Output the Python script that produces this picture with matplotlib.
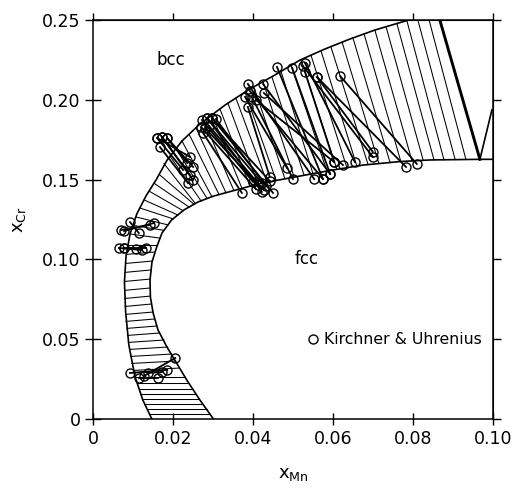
import numpy as np
import matplotlib
matplotlib.use("Agg")
import matplotlib.pyplot as plt

plt.rcParams['font.family'] = ['DejaVu Sans']
plt.rcParams['mathtext.default'] = 'regular'

# phase boundaries (x_Mn, x_Cr)
bcc_x = [0.0146, 0.0124, 0.0104, 0.0089, 0.0081, 0.0078, 0.0082, 0.0092, 0.0109, 0.0132,
         0.0157, 0.0185, 0.0222, 0.0267, 0.0330, 0.0392, 0.0455, 0.0518, 0.0580, 0.0643,
         0.0705, 0.0768, 0.0786]
bcc_y = [0.0, 0.0116, 0.0267, 0.0462, 0.0669, 0.0857, 0.1021, 0.1159, 0.1285, 0.1398,
         0.1498, 0.1624, 0.1743, 0.1850, 0.1969, 0.2070, 0.2158, 0.2252, 0.2321, 0.2384,
         0.2440, 0.2487, 0.25]
fcc_x = [0.0300, 0.0267, 0.0234, 0.0207, 0.0184, 0.0162, 0.0150, 0.0143, 0.0142, 0.0147,
         0.0159, 0.0172, 0.0196, 0.0227, 0.0262, 0.0302, 0.0342, 0.0417, 0.0509, 0.0593,
         0.0676, 0.0768, 0.0843, 0.0968, 0.1000]
fcc_y = [0.0, 0.0116, 0.0242, 0.0355, 0.0451, 0.0556, 0.0661, 0.0763, 0.0870, 0.0983,
         0.1079, 0.1165, 0.1247, 0.1310, 0.1360, 0.1398, 0.1425, 0.1476, 0.1519, 0.1558,
         0.1592, 0.1614, 0.1624, 0.1628, 0.1628]

# three-phase corner
tri_x = [0.0868, 0.0968]
tri_y = [0.2500, 0.1628]
tri2_x = [0.0968, 0.0998]
tri2_y = [0.1628, 0.1938]

# calculated tie-lines: bcc end -> fcc end
tie_bx = [0.0141, 0.0135, 0.0128, 0.0123, 0.0119, 0.0115, 0.0111, 0.0106, 0.0101, 0.0097,
          0.0094, 0.0091, 0.0088, 0.0086, 0.0084, 0.0082, 0.0081, 0.0080, 0.0079, 0.0079,
          0.0079, 0.0080, 0.0081, 0.0084,
          0.0087, 0.0092, 0.0099, 0.0107, 0.0117, 0.0127, 0.0140, 0.0152, 0.0165, 0.0177,
          0.0192, 0.0207, 0.0222, 0.0240, 0.0257, 0.0277, 0.0297, 0.0317, 0.0337, 0.0357,
          0.0380, 0.0402, 0.0425, 0.0447, 0.0470, 0.0495, 0.0520, 0.0545, 0.0570, 0.0595,
          0.0623, 0.0650, 0.0678, 0.0705, 0.0733, 0.0760, 0.0785, 0.0813, 0.0841]
tie_by = [0.0028, 0.0060, 0.0091, 0.0123, 0.0154, 0.0185, 0.0223, 0.0261, 0.0302, 0.0346,
          0.0390, 0.0434, 0.0478, 0.0522, 0.0566, 0.0610, 0.0654, 0.0704, 0.0754, 0.0805,
          0.0861, 0.0918, 0.0974, 0.1031,
          0.1090, 0.1159, 0.1213, 0.1266, 0.1322, 0.1373, 0.1428, 0.1478, 0.1533, 0.1601,
          0.1648, 0.1695, 0.1743, 0.1785, 0.1826, 0.1869, 0.1907, 0.1945, 0.1981, 0.2013,
          0.2050, 0.2084, 0.2116, 0.2147, 0.2180, 0.2218, 0.2254, 0.2282, 0.2310, 0.2334,
          0.2364, 0.2391, 0.2415, 0.2440, 0.2461, 0.2482, 0.2500, 0.2500, 0.2500]
tie_fx = [0.0292, 0.0284, 0.0274, 0.0265, 0.0257, 0.0249, 0.0239, 0.0230, 0.0216, 0.0206,
          0.0196, 0.0186, 0.0177, 0.0166, 0.0159, 0.0153, 0.0150, 0.0145, 0.0143, 0.0143,
          0.0143, 0.0144, 0.0147, 0.0154,
          0.0160, 0.0167, 0.0177, 0.0187, 0.0200, 0.0212, 0.0225, 0.0240, 0.0252, 0.0255,
          0.0270, 0.0285, 0.0297, 0.0315, 0.0332, 0.0352, 0.0372, 0.0392, 0.0412, 0.0435,
          0.0458, 0.0480, 0.0503, 0.0528, 0.0550, 0.0585, 0.0610, 0.0635, 0.0660, 0.0688,
          0.0715, 0.0743, 0.0770, 0.0798, 0.0826, 0.0853, 0.0878, 0.0906, 0.0933]
tie_fy = [0.0028, 0.0060, 0.0091, 0.0123, 0.0154, 0.0185, 0.0223, 0.0261, 0.0317, 0.0361,
          0.0405, 0.0449, 0.0493, 0.0537, 0.0581, 0.0625, 0.0669, 0.0719, 0.0769, 0.0820,
          0.0876, 0.0933, 0.0989, 0.1046,
          0.1090, 0.1133, 0.1182, 0.1216, 0.1254, 0.1278, 0.1305, 0.1328, 0.1346, 0.1352,
          0.1366, 0.1382, 0.1393, 0.1406, 0.1419, 0.1432, 0.1447, 0.1461, 0.1474, 0.1484,
          0.1494, 0.1505, 0.1515, 0.1527, 0.1538, 0.1555, 0.1565, 0.1575, 0.1585, 0.1595,
          0.1602, 0.1608, 0.1614, 0.1618, 0.1622, 0.1624, 0.1625, 0.1626, 0.1627]

# Kirchner & Uhrenius measured tie-lines
exp_bx = [0.0092, 0.0114, 0.0127, 0.0137,
          0.0077, 0.0069, 0.0092, 0.0077, 0.0064, 0.0077,
          0.0160, 0.0172, 0.0185, 0.0167, 0.0160, 0.0172, 0.0185,
          0.0272, 0.0285, 0.0297, 0.0307, 0.0270, 0.0280, 0.0290, 0.0275, 0.0297, 0.0285,
          0.0387, 0.0425, 0.0380, 0.0397, 0.0392, 0.0427, 0.0387, 0.0407,
          0.0525, 0.0530, 0.0530, 0.0560, 0.0618, 0.0498, 0.0460, 0.0560]
exp_by = [0.0286, 0.0254, 0.0267, 0.0286,
          0.1178, 0.1184, 0.1234, 0.1071, 0.1071, 0.1071,
          0.1762, 0.1768, 0.1762, 0.1705, 0.1762, 0.1768, 0.1762,
          0.1875, 0.1888, 0.1888, 0.1881, 0.1831, 0.1825, 0.1837, 0.1793, 0.1888, 0.1888,
          0.2101, 0.2101, 0.2020, 0.2020, 0.2057, 0.2045, 0.1957, 0.2001,
          0.2214, 0.2233, 0.2177, 0.2145, 0.2151, 0.2202, 0.2208, 0.2145]
exp_fx = [0.0185, 0.0162, 0.0205, 0.0172,
          0.0152, 0.0142, 0.0114, 0.0132, 0.0122, 0.0107,
          0.0225, 0.0242, 0.0250, 0.0237, 0.0242, 0.0250, 0.0235,
          0.0400, 0.0422, 0.0442, 0.0432, 0.0407, 0.0412, 0.0427, 0.0372, 0.0450, 0.0422,
          0.0553, 0.0593, 0.0485, 0.0500, 0.0575, 0.0625, 0.0442, 0.0603,
          0.0700, 0.0655, 0.0603, 0.0700, 0.0810, 0.0593, 0.0575, 0.0783]
exp_fy = [0.0305, 0.0254, 0.0380, 0.0292,
          0.1228, 0.1216, 0.1165, 0.1071, 0.1058, 0.1065,
          0.1561, 0.1530, 0.1580, 0.1479, 0.1643, 0.1498, 0.1605,
          0.1486, 0.1479, 0.1492, 0.1460, 0.1442, 0.1467, 0.1435, 0.1417, 0.1417, 0.1423,
          0.1504, 0.1536, 0.1574, 0.1504, 0.1504, 0.1592, 0.1517, 0.1611,
          0.1643, 0.1611, 0.1611, 0.1674, 0.1599, 0.1536, 0.1504, 0.1580]

xticks = [0, 0.02, 0.04, 0.06, 0.08, 0.10]
xticklabels = ['0', '0.02', '0.04', '0.06', '0.08', '0.10']
yticks = [0, 0.05, 0.10, 0.15, 0.20, 0.25]
yticklabels = ['0', '0.05', '0.10', '0.15', '0.20', '0.25']

fig = plt.figure(figsize=(5.12, 4.88), dpi=100)
ax = fig.add_axes([0.1822, 0.1424, 0.7801, 0.8156])

ax.plot([tie_bx, tie_fx], [tie_by, tie_fy], color='black', lw=0.75)
ax.plot(bcc_x, bcc_y, color='black', lw=1.2)
ax.plot(fcc_x, fcc_y, color='black', lw=1.2)
ax.plot(tri_x, tri_y, color='black', lw=2.1)
ax.plot(tri2_x, tri2_y, color='black', lw=1.2)

ax.plot([exp_bx, exp_fx], [exp_by, exp_fy], color='black', lw=1.3)
ax.plot(exp_bx + exp_fx, exp_by + exp_fy, ls='none', marker='o', ms=6.5,
        mfc='none', mec='black', mew=1.0)

ax.text(0.0195, 0.225, 'bcc', fontsize=12, ha='center', va='center')
ax.text(0.0534, 0.100, 'fcc', fontsize=12, ha='center', va='center')
ax.plot([0.0551], [0.0497], ls='none', marker='o', ms=6.5, mfc='none', mec='black', mew=1.0)
ax.text(0.0578, 0.0497, 'Kirchner & Uhrenius', fontsize=11.3, ha='left', va='center')

ax.set_xlim(0, 0.10)
ax.set_ylim(0, 0.25)
ax.set_xticks(xticks)
ax.set_xticklabels(xticklabels)
ax.set_yticks(yticks)
ax.set_yticklabels(yticklabels)
ax.tick_params(axis='x', direction='inout', length=9, width=1, labelsize=12.5, pad=4)
ax.tick_params(axis='y', direction='inout', length=12, width=1, labelsize=12.5, pad=3)
for s in ax.spines.values():
    s.set_linewidth(1.1)

top = ax.secondary_xaxis('top')
top.set_xticks(xticks)
top.set_xticklabels([])
top.tick_params(direction='out', length=5, width=1)
right = ax.secondary_yaxis('right')
right.set_yticks(yticks)
right.set_yticklabels([])
right.tick_params(direction='out', length=6, width=1)

ax.set_xlabel('x$_{Mn}$', fontsize=13, labelpad=12)
ax.set_ylabel('x$_{Cr}$', fontsize=13, labelpad=10)

fig.savefig('out.png', dpi=100)
